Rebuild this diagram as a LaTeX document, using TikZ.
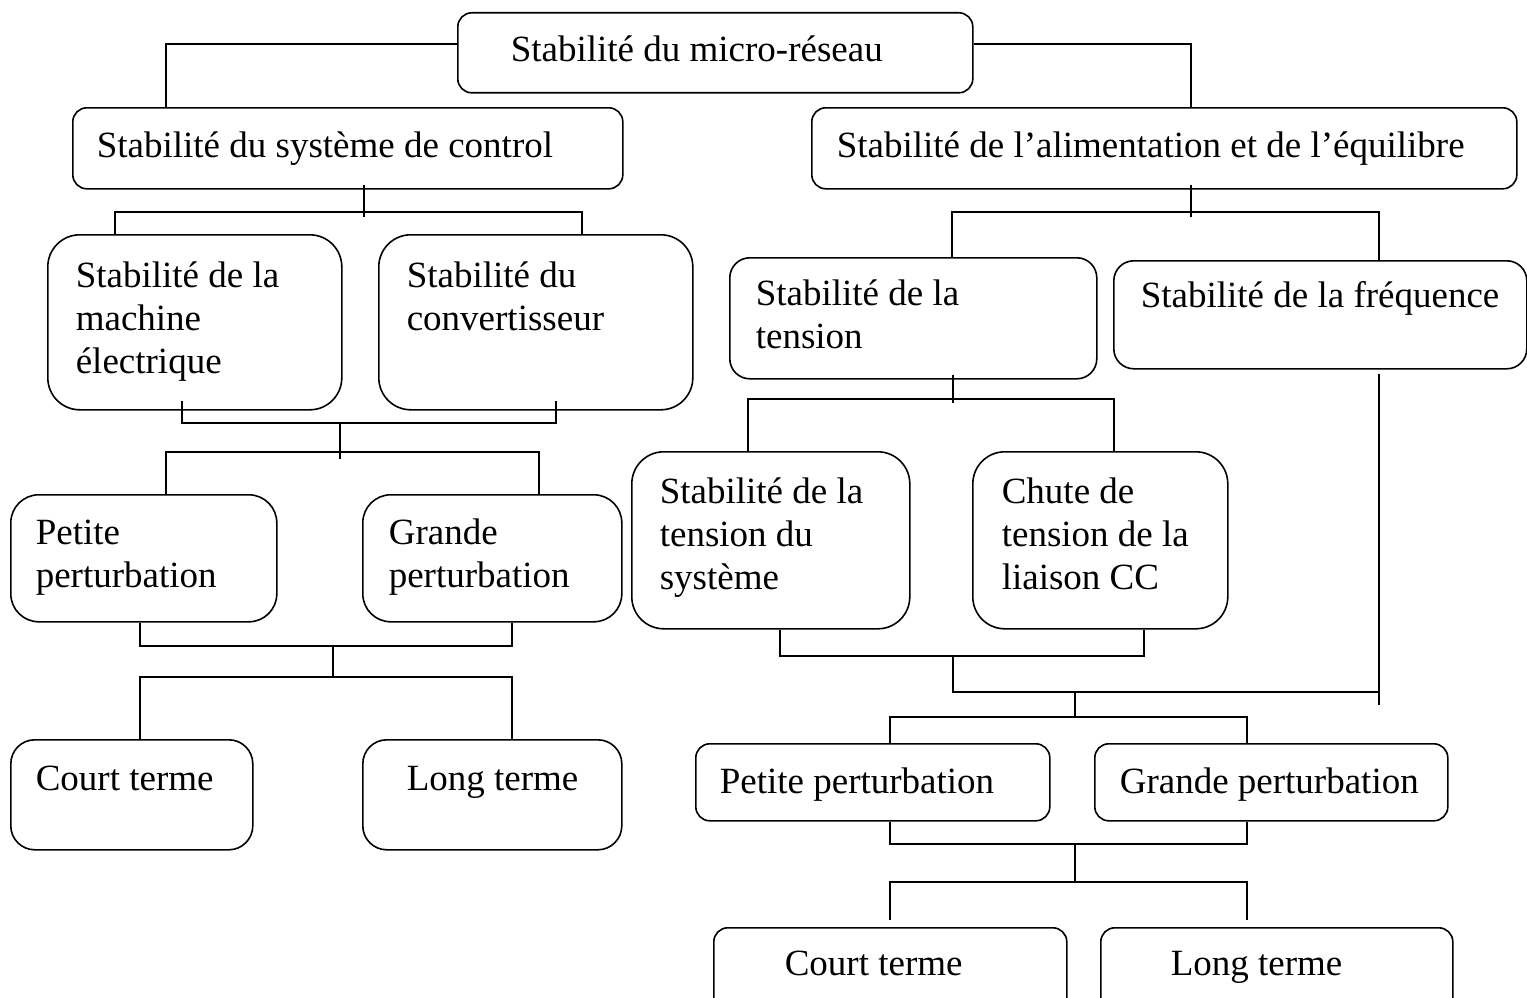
\documentclass[tikz,border=0pt]{standalone}
\usepackage{fontspec}
\setmainfont{Liberation Serif}
\begin{document}
\begin{tikzpicture}[x=1pt,y=-1pt,line width=1.6pt,
  bx/.style={draw,rounded corners=#1,anchor=north west,inner sep=0pt},
  bx/.default=14pt,
  lb/.style={anchor=base west,align=left,inner sep=0pt,font=\fontsize{37}{43}\selectfont}]
\useasboundingbox (0,0) rectangle (1527,998);
\node[bx,minimum width=515,minimum height=80] (root) at (457,12) {};
\node[bx,minimum width=550,minimum height=81] (ctrl) at (72,107) {};
\node[bx,minimum width=705,minimum height=81] (alim) at (811,107) {};
\node[bx=32pt,minimum width=294,minimum height=175] (mach) at (47,234) {};
\node[bx=32pt,minimum width=314,minimum height=175] (conv) at (378,234) {};
\node[bx=20pt,minimum width=367,minimum height=121] (tens) at (729,257) {};
\node[bx=20pt,minimum width=413,minimum height=108] (freq) at (1113,260) {};
\node[bx=32pt,minimum width=278,minimum height=177] (sys) at (631,451) {};
\node[bx=32pt,minimum width=255,minimum height=177] (cc) at (972,451) {};
\node[bx=28pt,minimum width=266,minimum height=127] (ppl) at (10,494) {};
\node[bx=28pt,minimum width=259,minimum height=127] (gpl) at (362,494) {};
\node[bx=24pt,minimum width=242,minimum height=110] (ctl) at (10,739) {};
\node[bx=24pt,minimum width=259,minimum height=110] (ltl) at (362,739) {};
\node[bx,minimum width=354,minimum height=77] (ppr) at (695,743) {};
\node[bx,minimum width=353,minimum height=77] (gpr) at (1094,743) {};
\node[bx,minimum width=353,minimum height=90] (ctr) at (713,927) {};
\node[bx,minimum width=352,minimum height=90] (ltr) at (1100,927) {};
\node[lb] (t-root) at (510,62) {Stabilité du micro-réseau};
\node[lb] (t-ctrl) at (96,157) {Stabilité du système de control};
\node[lb] (t-alim) at (836,157) {Stabilité de l’alimentation et de l’équilibre};
\node[lb] (t-mach) at (75,373) {Stabilité de la\\machine\\électrique};
\node[lb] (t-conv) at (406,330) {Stabilité du\\convertisseur};
\node[lb] (t-tens) at (755,348) {Stabilité de la\\tension};
\node[lb] (t-freq) at (1140,307) {Stabilité de la fréquence};
\node[lb] (t-sys) at (659,589) {Stabilité de la\\tension du\\système};
\node[lb] (t-cc) at (1001,589) {Chute de\\tension de la\\liaison CC};
\node[lb] (t-ppl) at (35,587) {Petite\\perturbation};
\node[lb] (t-gpl) at (388,587) {Grande\\perturbation};
\node[lb] (t-ctl) at (35,790) {Court terme};
\node[lb] (t-ltl) at (406,790) {Long terme};
\node[lb] (t-ppr) at (719,793) {Petite perturbation};
\node[lb] (t-gpr) at (1119,793) {Grande perturbation};
\node[lb] (t-ctr) at (784,975) {Court terme};
\node[lb] (t-ltr) at (1170,975) {Long terme};
\coordinate (ja) at (364,212);
\coordinate (jb) at (340,452);
\coordinate (jc) at (333,677);
\coordinate (jd) at (1191,212);
\coordinate (je) at (953,399);
\coordinate (jf) at (1075,717);
\coordinate (jg) at (1075,882);
\draw (root.west |- 0,44) -| (ctrl.north -| 166,0);
\draw (root.east |- 0,44) -| (alim.north -| jd);
\draw ([yshift=5pt]ctrl.south -| ja) -- ([yshift=-5pt]ja);
\draw (mach.north -| 115,0) |- (ja) -| (conv.north -| 582,0);
\draw ([yshift=10pt]mach.south -| 182,0) |- (jb |- 0,423) -| ([yshift=10pt]conv.south -| 556,0);
\draw (jb |- 0,423) -- ([yshift=-7pt]jb);
\draw (ppl.north -| 166,0) |- (jb) -| (gpl.north -| 539,0);
\draw (ppl.south -| 140,0) |- (jc |- 0,646) -| (gpl.south -| 512,0);
\draw (jc |- 0,646) -- (jc);
\draw (ctl.north -| 140,0) |- (jc) -| (ltl.north -| 512,0);
\draw ([yshift=5pt]alim.south -| jd) -- ([yshift=-5pt]jd);
\draw (tens.north -| 952,0) |- (jd) -| (freq.north -| 1379,0);
\draw ([yshift=5pt]tens.south -| je) -- ([yshift=-4pt]je);
\draw (sys.north -| 748,0) |- (je) -| (cc.north -| 1114,0);
\draw (sys.south -| 780,0) |- (je |- 0,656) -| (cc.south -| 1144,0);
\draw (je |- 0,656) |- (1379,692);
\draw ([yshift=-4pt]freq.south -| 1379,0) -- (1379,705);
\draw (jf |- 0,692) -- (jf);
\draw (ppr.north -| 890,0) |- (jf) -| (gpr.north -| 1247,0);
\draw (ppr.south -| 890,0) |- (jg |- 0,844) -| (gpr.south -| 1247,0);
\draw (jg |- 0,844) -- (jg);
\draw (890,920) |- (jg) -| (1247,920);
\end{tikzpicture}
\end{document}
